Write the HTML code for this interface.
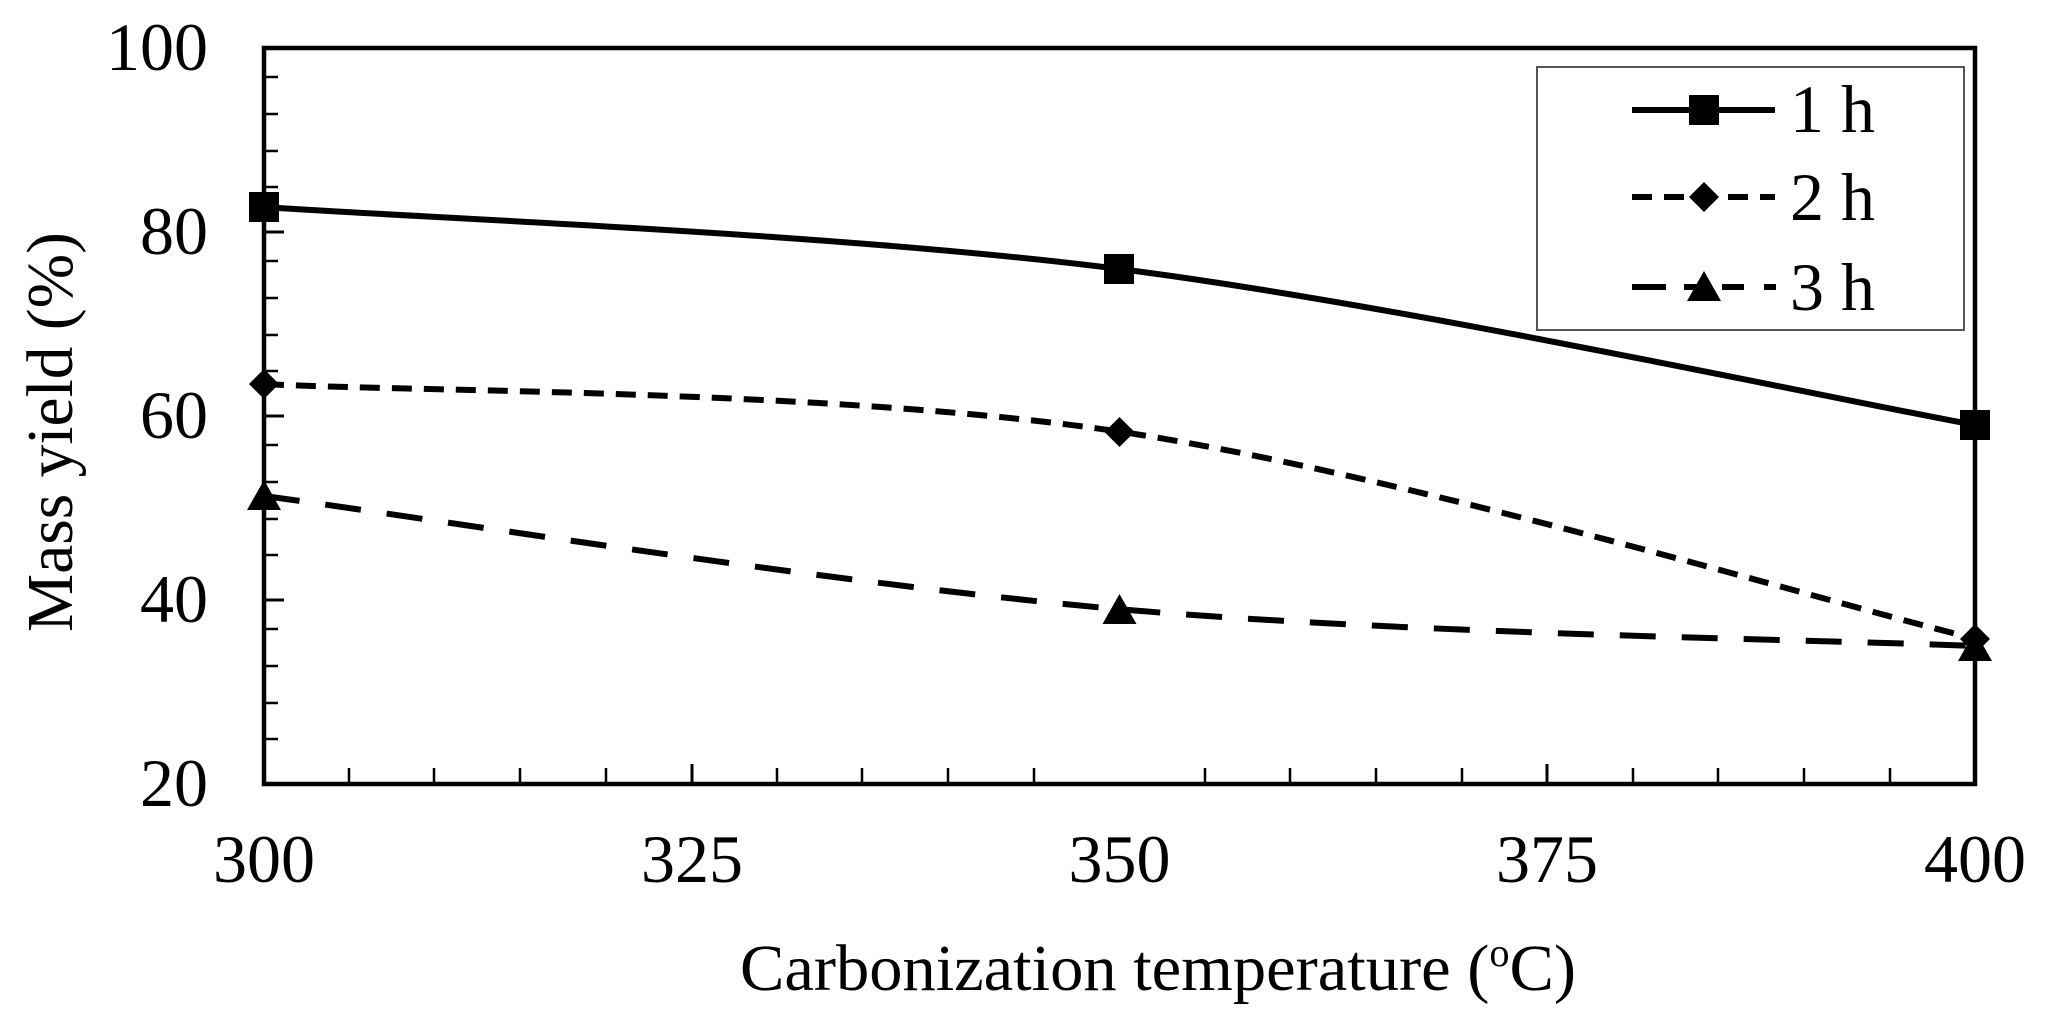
<!DOCTYPE html>
<html><head><meta charset="utf-8"><style>html,body{margin:0;padding:0;background:#fff}svg{display:block}</style></head>
<body>
<svg width="2049" height="1028" viewBox="0 0 2049 1028" xmlns="http://www.w3.org/2000/svg" font-family="Liberation Serif, serif" fill="#000">
<rect width="2049" height="1028" fill="#fff"/>
<g stroke="#000" stroke-width="2.5">
<path d="M264 77h14M264 114h14M264 151h14M264 187h14M264 261h14M264 298h14M264 335h14M264 371h14M264 445h14M264 482h14M264 519h14M264 555h14M264 629h14M264 666h14M264 703h14M264 739h14"/>
<path d="M264 232h20M264 416h20M264 600h20" stroke-width="3"/>
<path d="M349 784v-16M434 784v-16M520 784v-16M606 784v-16M777 784v-16M862 784v-16M948 784v-16M1034 784v-16M1205 784v-16M1290 784v-16M1376 784v-16M1462 784v-16M1633 784v-16M1718 784v-16M1804 784v-16M1890 784v-16"/>
<path d="M692 784v-20M1547 784v-20" stroke-width="3"/>
</g>
<rect x="264" y="48" width="1711" height="736" fill="none" stroke="#000" stroke-width="4.5"/>
<g fill="none" stroke="#000" stroke-width="6">
<path d="M264 207 C406.6 217.3 834.3 232.7 1119.5 269 C1404.7 305.3 1832.4 399 1975 425"/>
<path d="M264 384 C406.6 391.8 834.3 389.1 1119.5 431.6 C1404.7 474.1 1832.4 604.1 1975 638.6" stroke-dasharray="20 12"/>
<path d="M264 496 C406.6 514.9 834.3 584.2 1119.5 609.2 C1404.7 634.2 1832.4 639.9 1975 646" stroke-dasharray="36 26"/>
</g>
<rect x="249" y="192" width="30" height="30"/>
<rect x="1104" y="254" width="30" height="30"/>
<rect x="1960" y="410" width="30" height="30"/>
<path d="M264 369l15 15-15 15-15-15z M1119.5 417l15 15-15 15-15-15z M1975 624l15 15-15 15-15-15z"/>
<path d="M264 480l17 30h-34z M1119.5 594l17 30h-34z M1975 631l17 30h-34z"/>
<rect x="1537" y="67" width="427" height="263" fill="#fff" stroke="#555" stroke-width="2"/>
<g stroke="#000" stroke-width="6" fill="none">
<path d="M1632 110h143"/>
<path d="M1632 197h143" stroke-dasharray="20 12"/>
<path d="M1632 287h34M1684 287h22M1722 287h22M1764 287h12"/>
</g>
<rect x="1689" y="95" width="30" height="30"/>
<path d="M1704 182l15 15-15 15-15-15z"/>
<path d="M1704 271l17 30h-34z"/>
<g font-size="68">
<text x="1790" y="132">1 h</text>
<text x="1790" y="220">2 h</text>
<text x="1790" y="310">3 h</text>
</g>
<g font-size="68" text-anchor="end">
<text x="208" y="70">100</text>
<text x="208" y="254">80</text>
<text x="208" y="438">60</text>
<text x="208" y="622">40</text>
<text x="208" y="806">20</text>
</g>
<g font-size="68" text-anchor="middle">
<text x="264" y="882">300</text>
<text x="692" y="882">325</text>
<text x="1119.5" y="882">350</text>
<text x="1547" y="882">375</text>
<text x="1975" y="882">400</text>
</g>
<text x="740" y="990" font-size="66" textLength="836" lengthAdjust="spacingAndGlyphs">Carbonization temperature (<tspan font-size="40" dy="-24">o</tspan><tspan dy="24">C)</tspan></text>
<text transform="translate(72 432) rotate(-90)" font-size="66" text-anchor="middle" textLength="400" lengthAdjust="spacingAndGlyphs">Mass yield (%)</text>
</svg>
</body></html>
